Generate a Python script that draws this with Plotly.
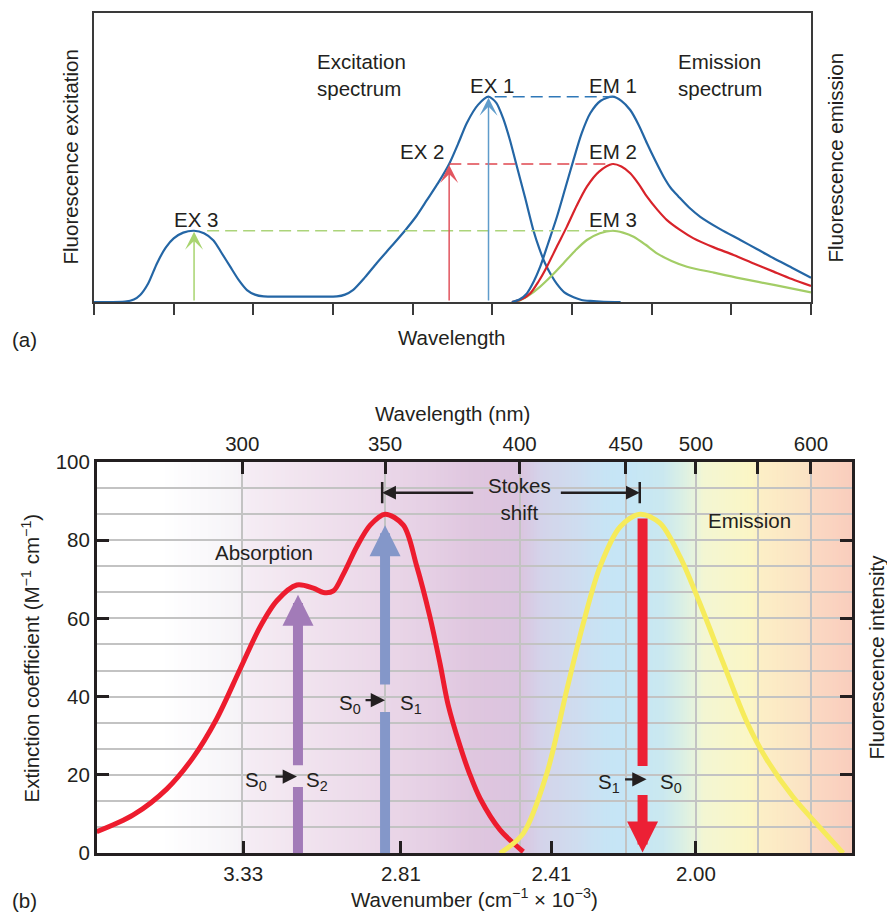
import numpy as np
import plotly.graph_objects as go

# ---------------- (a) excitation / emission schematic ----------------
# x: wavelength in tick intervals (0-9, unlabelled), y: intensity relative to the EX 1 maximum
EXC_X = [0, 0.39, 0.5, 0.58, 0.68, 0.79, 0.9, 1.0, 1.12, 1.256, 1.38, 1.5, 1.6, 1.71, 1.82, 1.92,
         2.02, 2.13, 2.45, 2.75, 3.05, 3.15, 3.25, 3.4, 3.55, 3.73, 3.91, 4.05, 4.18, 4.32, 4.458,
         4.57, 4.68, 4.82, 4.952, 5.05, 5.136, 5.22, 5.30, 5.41, 5.517, 5.59, 5.66, 5.74, 5.81,
         5.9, 6.02, 6.12, 6.23, 6.4, 6.61]
EXC_Y = [0, 0.002, 0.012, 0.034, 0.09, 0.188, 0.265, 0.31, 0.338, 0.347, 0.335, 0.30, 0.24, 0.172,
         0.105, 0.058, 0.036, 0.027, 0.026, 0.026, 0.027, 0.036, 0.058, 0.12, 0.19, 0.27, 0.351, 0.42,
         0.497, 0.58, 0.672, 0.77, 0.872, 0.96, 1.0, 0.97, 0.894, 0.79, 0.672, 0.51, 0.347, 0.26,
         0.19, 0.13, 0.088, 0.048, 0.023, 0.01, 0.005, 0.001, 0.0]

EM1_X = [5.245, 5.34, 5.434, 5.52, 5.601, 5.7, 5.811, 5.92, 6.019, 6.12, 6.229, 6.36, 6.509, 6.62,
         6.731, 6.84, 6.941, 7.05, 7.15, 7.24, 7.338, 7.47, 7.61, 7.86, 8.113, 8.32, 8.531, 8.76, 9.0]
EM1_Y = [0, 0.012, 0.042, 0.10, 0.172, 0.285, 0.415, 0.56, 0.692, 0.82, 0.919, 0.98, 1.0, 0.98,
         0.935, 0.86, 0.773, 0.685, 0.61, 0.555, 0.513, 0.46, 0.415, 0.355, 0.302, 0.258, 0.213,
         0.167, 0.118]
EM2_X = [5.245, 5.36, 5.475, 5.58, 5.685, 5.81, 5.936, 6.06, 6.187, 6.34, 6.509, 6.62, 6.731, 6.84,
         6.941, 7.07, 7.192, 7.36, 7.526, 7.78, 8.028, 8.28, 8.531, 8.76, 9.0]
EM2_Y = [0, 0.012, 0.042, 0.10, 0.172, 0.27, 0.367, 0.47, 0.562, 0.635, 0.672, 0.66, 0.627, 0.573,
         0.513, 0.45, 0.399, 0.35, 0.31, 0.266, 0.229, 0.188, 0.148, 0.112, 0.078]
EM3_X = [5.308, 5.45, 5.601, 5.75, 5.894, 6.04, 6.187, 6.35, 6.509, 6.64, 6.773, 6.92, 7.066, 7.25,
         7.443, 7.78, 8.113, 8.55, 9.0]
EM3_Y = [0, 0.03, 0.075, 0.13, 0.189, 0.25, 0.302, 0.335, 0.347, 0.338, 0.318, 0.28, 0.237, 0.2,
         0.172, 0.143, 0.115, 0.082, 0.047]

# excitation maxima EX 1..3, matching emission maxima EM 1..3
EX_PEAK_X = [4.952, 4.458, 1.256]
PEAK_Y = [1.0, 0.672, 0.347]
EM_PEAK_X = 6.509
DASH_START = [5.03, 4.46, 1.42]

# ---------------- (b) absorption / emission of a fluorophore ----------------
WL_TICKS = [300, 350, 400, 450, 500, 550, 600]
WL_TICK_TEXT = ["300", "350", "400", "450", "500", "", "600"]
WN_TICKS = [3.33, 2.81, 2.41, 2.00]
WN_TICK_TEXT = ["3.33", "2.81", "2.41", "2.00"]

ABS_WL = [249, 261.8, 273.5, 282.8, 291.0, 299.2, 306.2, 312.1, 319.1, 324.9, 328.4, 331.9,
          335.4, 340.1, 344.8, 350, 356.8, 361.7, 366.6, 370.4, 373.4, 377.8, 381.3, 385.3, 392.7, 401.7]
ABS_EPS = [5.5, 9.8, 16.4, 24.5, 34.3, 47.0, 57.8, 64.5, 68.5, 67.7, 66.6, 67.0,
           71.3, 78.3, 83.8, 86.6, 83.8, 73.5, 60.6, 48.5, 38.0, 27.5, 20.5, 14.0, 6.0, 0.4]
EM_WL = [392.7, 401.7, 412.8, 422.2, 430.0, 437.9, 447.4, 460.2, 474.4, 488.7, 503.2, 522.2,
         541.1, 558.4, 583.4, 608.4, 630.4]
EM_INT = [0, 5.1, 20.4, 41.7, 58.7, 73.2, 83.4, 86.6, 84.3, 75.7, 63.8, 48.5,
          33.6, 24.0, 14.3, 6.6, 0]

# transitions: wavelength of arrow, arrow tip value
S02_WL, S02_TIP = 319.5, 66.0
S01_WL, S01_TIP = 350.0, 83.8
S10_WL, S10_TOP = 462.0, 85.5
STOKES_FROM, STOKES_TO, STOKES_Y = 349.0, 460.0, 92.1

# visible-spectrum backdrop
SPECTRUM_WL = [249, 272, 298, 302, 320, 343, 367, 383, 400, 410, 426, 440, 452, 476, 489,
               500, 506, 545, 552, 597, 602, 639]
SPECTRUM_COLOR = ["#ffffff", "#ffffff", "#f6f4f8", "#f5ecf4", "#f1e4ef", "#ecdaea", "#e5cfe4",
                  "#dfc6df", "#dbc4df", "#d4d3ea", "#cfdcef", "#c7e4f5", "#c5e6f6", "#cae8f0",
                  "#d9efe6", "#e9f4dc", "#f3f6d3", "#fbf6c5", "#fcefc6", "#fbe2c4", "#fbd9c3",
                  "#f9cdbd"]

# The wavelength ruler of (b) is irregular: fraction of plot width at each wavelength mark
RULER_WL = [249, 300, 350, 400, 450, 500, 550, 600, 639]
RULER_POS = [0.0, 0.1927, 0.3816, 0.5598, 0.7001, 0.7931, 0.8748, 0.9453, 1.0]


def xpos(wl):
    return np.interp(wl, RULER_WL, RULER_POS)


def hex_rgb(h):
    return [int(h[i:i + 2], 16) for i in (1, 3, 5)]


FONT = "Liberation Sans, Arial, Helvetica, sans-serif"
INK = "#231f20"
FS = 20.5

BLUE, BLUE_ARROW, BLUE_DASH = "#2466a5", "#5f9ccb", "#2f78b8"
RED, RED_ARROW, RED_DASH = "#d8232a", "#e2555f", "#e0474f"
GREEN, GREEN_ARROW, GREEN_DASH = "#a3cd66", "#a8d46f", "#acd47a"

fig = go.Figure()

# ---- panel (a) traces
fig.add_trace(go.Scatter(x=EXC_X, y=EXC_Y, mode="lines", line=dict(color=BLUE, width=2.2, shape="spline", smoothing=0.7),
                         xaxis="x", yaxis="y", hoverinfo="skip"))
for xs, ys, col in [(EM3_X, EM3_Y, GREEN), (EM2_X, EM2_Y, RED), (EM1_X, EM1_Y, BLUE)]:
    fig.add_trace(go.Scatter(x=xs, y=ys, mode="lines", line=dict(color=col, width=2.2, shape="spline", smoothing=0.8),
                             xaxis="x", yaxis="y", hoverinfo="skip"))
for x0, yv, col in zip(DASH_START, PEAK_Y, [BLUE_DASH, RED_DASH, GREEN_DASH]):
    fig.add_trace(go.Scatter(x=[x0, EM_PEAK_X], y=[yv, yv], mode="lines",
                             line=dict(color=col, width=1.5, dash="12px,6px"),
                             xaxis="x", yaxis="y", hoverinfo="skip"))

annotations = []
for xv, yv, col in zip(EX_PEAK_X, PEAK_Y, [BLUE_ARROW, RED_ARROW, GREEN_ARROW]):
    annotations.append(dict(x=xv, y=yv - 0.005, ax=xv, ay=0, xref="x", yref="y", axref="x", ayref="y",
                            text="", showarrow=True, arrowhead=3, arrowsize=2.0, arrowwidth=1.5,
                            arrowcolor=col))

txt = dict(font=dict(family=FONT, size=FS, color=INK), showarrow=False)
for label, xv, yv in [("EX 3", 1.277, 0.40), ("EX 2", 4.119, 0.732), ("EX 1", 4.994, 1.052),
                      ("EM 1", 6.518, 1.052), ("EM 2", 6.518, 0.732), ("EM 3", 6.518, 0.404)]:
    annotations.append(dict(x=xv, y=yv, xref="x", yref="y", text=label, **txt))
annotations.append(dict(x=2.769, y=1.104, xref="x", yref="y", text="Excitation<br>spectrum",
                        xanchor="left", align="left", **txt))
annotations.append(dict(x=7.30, y=1.104, xref="x", yref="y", text="Emission<br>spectrum",
                        xanchor="left", align="left", **txt))

# ---- panel (b) traces
fig.add_trace(go.Scatter(x=[], y=[], xaxis="x4", yaxis="y3", showlegend=False, hoverinfo="skip"))
fig.add_trace(go.Scatter(x=xpos(ABS_WL), y=ABS_EPS, mode="lines",
                         line=dict(color="#ed1c2e", width=5, shape="spline", smoothing=0.9),
                         xaxis="x3", yaxis="y3", hoverinfo="skip"))
fig.add_trace(go.Scatter(x=xpos(EM_WL), y=EM_INT, mode="lines",
                         line=dict(color="#f6eb5b", width=5, shape="spline", smoothing=0.9),
                         xaxis="x3", yaxis="y4", hoverinfo="skip"))

shapes = []
# spectrum backdrop as thin columns under the grid
edges = np.linspace(RULER_WL[0], RULER_WL[-1], 261)
rgb = np.array([hex_rgb(c) for c in SPECTRUM_COLOR], dtype=float)
for a, b in zip(edges[:-1], edges[1:]):
    mid = 0.5 * (a + b)
    c = [int(round(np.interp(mid, SPECTRUM_WL, rgb[:, k]))) for k in range(3)]
    shapes.append(dict(type="rect", xref="x3", yref="y3", x0=float(xpos(a)), x1=float(xpos(b)) + 0.002,
                       y0=0, y1=100, line=dict(width=0), fillcolor=f"rgb({c[0]},{c[1]},{c[2]})",
                       layer="below"))

SHAFT = 10
# lower shaft pieces of the absorption arrows, upper shaft of the emission arrow
for wl, y0, y1, col in [(S02_WL, 0, 16.9, "#a27bb8"), (S01_WL, 0, 36.1, "#8497c9"),
                        (S10_WL, 22.3, S10_TOP, "#ec2035")]:
    xv = float(xpos(wl))
    shapes.append(dict(type="line", xref="x3", yref="y3", x0=xv, x1=xv, y0=y0, y1=y1,
                       line=dict(color=col, width=SHAFT), layer="above"))
# heads with the remaining shaft
for wl, tail, tip, col in [(S02_WL, 22.1, S02_TIP, "#a27bb8"), (S01_WL, 42.7, S01_TIP, "#8497c9"),
                           (S10_WL, 15.3, 0.2, "#ec2035")]:
    xv = float(xpos(wl))
    annotations.append(dict(x=xv, y=tip, ax=xv, ay=tail, xref="x3", yref="y3", axref="x3", ayref="y3",
                            text="", showarrow=True, arrowhead=2, arrowsize=0.62, arrowwidth=SHAFT,
                            arrowcolor=col))

# state labels beside each arrow with a small pointer into the gap
for wl, yv, left, right, lshift, rshift, ptr_tip, ptr_len in [
        (S02_WL, 19.6, "S<sub>0</sub>", "S<sub>2</sub>", -29, 6, -1, 23),
        (S01_WL, 39.1, "S<sub>0</sub>", "S<sub>1</sub>", -22, 13, 0, 21),
        (S10_WL, 18.9, "S<sub>1</sub>", "S<sub>0</sub>", -21, 15, 4, 23)]:
    xv = float(xpos(wl))
    annotations.append(dict(x=xv, y=yv, xref="x3", yref="y3", text=left, xanchor="right",
                            xshift=lshift, yshift=-4, **txt))
    annotations.append(dict(x=xv, y=yv, xref="x3", yref="y3", text=right, xanchor="left",
                            xshift=rshift, yshift=-4, **txt))
    annotations.append(dict(x=xv, y=yv, xref="x3", yref="y3", ax=-ptr_len, ay=0, xshift=ptr_tip,
                            text="", showarrow=True, arrowhead=2, arrowsize=1.3, arrowwidth=2.2,
                            arrowcolor=INK))

# Stokes shift marker
for wl in (STOKES_FROM, STOKES_TO):
    xv = float(xpos(wl))
    shapes.append(dict(type="line", xref="x3", yref="y3", x0=xv, x1=xv, y0=STOKES_Y - 2.7,
                       y1=STOKES_Y + 2.7, line=dict(color=INK, width=2.5), layer="above"))
for tip, tail in [(STOKES_FROM, 383.3), (STOKES_TO, 418.7)]:
    annotations.append(dict(x=float(xpos(tip)), y=STOKES_Y, ax=float(xpos(tail)), ay=STOKES_Y,
                            xref="x3", yref="y3", axref="x3", ayref="y3", text="", showarrow=True,
                            arrowhead=2, arrowsize=1.1, arrowwidth=2.5, arrowcolor=INK))
annotations.append(dict(x=float(xpos(400)), y=90.4, xref="x3", yref="y3", text="Stokes<br>shift", **txt))
annotations.append(dict(x=float(xpos(307.6)), y=76.9, xref="x3", yref="y3", text="Absorption", **txt))
annotations.append(dict(x=float(xpos(543)), y=84.9, xref="x3", yref="y3", text="Emission", **txt))

# axis titles and panel letters
W, H = 887, 915
for text, px, py, ang in [
        ("Fluorescence excitation", 70, 157.5, -90),
        ("Fluorescence emission", 835, 157.5, -90),
        ("Wavelength", 452, 338, 0),
        ("(a)", 24, 340, 0),
        ("Wavelength (nm)", 452, 414, 0),
        ("Extinction coefficient (M<sup>−1</sup> cm<sup>−1</sup>)", 30, 658.5, -90),
        ("Fluorescence intensity", 876, 657.5, -90),
        ("Wavenumber (cm<sup>−1</sup> × 10<sup>−3</sup>)", 474, 898, 0),
        ("(b)", 24, 900, 0)]:
    annotations.append(dict(x=px / W, y=1 - py / H, xref="paper", yref="paper", text=text,
                            textangle=ang, xanchor="center", yanchor="middle", **txt))

LINE_A = "#3a3a3a"
GRID = "#c3c3c3"
tickfont = dict(family=FONT, size=FS, color=INK)

fig.update_layout(
    width=W, height=H, autosize=False,
    margin=dict(l=0, r=0, t=0, b=0, pad=0, autoexpand=False),
    paper_bgcolor="white", plot_bgcolor="white",
    showlegend=False,
    font=dict(family=FONT, size=FS, color=INK),
    xaxis=dict(domain=[94 / W, 811 / W], anchor="y", range=[0, 9], tickvals=list(range(10)),
               ticks="outside", ticklen=11, tickwidth=2, tickcolor=LINE_A, showticklabels=False,
               showline=True, linecolor=LINE_A, linewidth=2, mirror=True, showgrid=False, zeroline=False,
               automargin=False),
    yaxis=dict(domain=[1 - 302 / H, 1 - 13.3 / H], anchor="x", range=[0, 1.406], showticklabels=False,
               ticks="", showline=True, linecolor=LINE_A, linewidth=2, mirror=True, showgrid=False,
               zeroline=False, automargin=False),
    xaxis3=dict(domain=[96.7 / W, 852.3 / W], anchor="y3", range=[0, 1],
                tickvals=[float(v) for v in xpos([1000 / k for k in WN_TICKS])], ticktext=WN_TICK_TEXT,
                ticks="inside", ticklen=13, tickwidth=2.5, tickcolor=INK, tickfont=tickfont,
                showline=True, linecolor=INK, linewidth=2.5, showgrid=False, zeroline=False,
                automargin=False),
    xaxis4=dict(overlaying="x3", anchor="y3", side="top", range=[0, 1],
                tickvals=[float(v) for v in xpos(WL_TICKS)], ticktext=WL_TICK_TEXT,
                ticks="inside", ticklen=13, tickwidth=2.5, tickcolor=INK, tickfont=tickfont,
                showline=True, linecolor=INK, linewidth=2.5, showgrid=True, gridcolor=GRID, gridwidth=2,
                zeroline=False, automargin=False),
    yaxis3=dict(domain=[1 - 853.3 / H, 1 - 461.7 / H], anchor="x3", range=[0, 100], tick0=0, dtick=20,
                ticks="inside", ticklen=13, tickwidth=2.5, tickcolor=INK, tickfont=tickfont,
                showline=True, linecolor=INK, linewidth=2.5, showgrid=True, gridcolor=GRID, gridwidth=2,
                minor=dict(dtick=20 / 3, showgrid=True, gridcolor=GRID, gridwidth=2, ticks=""),
                zeroline=False, automargin=False),
    yaxis4=dict(overlaying="y3", anchor="x3", side="right", range=[0, 100], tickvals=[20, 40, 60, 80],
                ticks="inside", ticklen=13, tickwidth=2.5, tickcolor=INK, showticklabels=False,
                showline=True, linecolor=INK, linewidth=2.5, showgrid=False, zeroline=False,
                automargin=False),
    shapes=shapes,
    annotations=annotations,
)

fig.write_html("out.html")
